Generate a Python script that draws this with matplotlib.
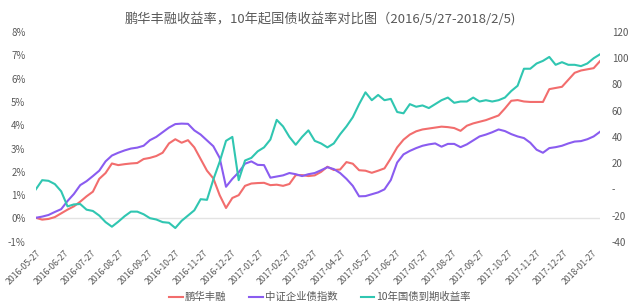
import numpy as np
import pandas as pd
import matplotlib
matplotlib.use('Agg')
import matplotlib.pyplot as plt
from matplotlib.ticker import FuncFormatter

plt.rcParams['font.family'] = ['Noto Sans CJK SC', 'DejaVu Sans']

# weekly-ish readings, 2016-05-27 .. 2018-02-05
start_date = '2016-05-27'
end_date = '2018-02-05'

# 鹏华丰融 cumulative return (%)
penghua = [0.03, -0.05, -0.02, 0.06, 0.22, 0.38, 0.52, 0.72, 0.95, 1.15,
           1.70, 1.95, 2.36, 2.29, 2.33, 2.36, 2.38, 2.55, 2.60, 2.68,
           2.82, 3.22, 3.40, 3.25, 3.36, 3.05, 2.55, 2.05, 1.72, 1.00,
           0.45, 0.88, 1.00, 1.40, 1.50, 1.52, 1.53, 1.43, 1.45, 1.40,
           1.48, 1.86, 1.86, 1.82, 1.85, 2.00, 2.22, 2.08, 2.10, 2.42,
           2.35, 2.07, 2.05, 1.96, 2.05, 2.15, 2.58, 3.05, 3.38, 3.60,
           3.74, 3.82, 3.86, 3.90, 3.94, 3.92, 3.88, 3.76, 3.98, 4.08,
           4.15, 4.22, 4.32, 4.42, 4.72, 5.05, 5.08, 5.02, 5.00, 5.00,
           5.00, 5.55, 5.60, 5.65, 5.95, 6.25, 6.35, 6.40, 6.45, 6.75]

# 中证企业债指数 cumulative return (%)
csi_corp = [0.03, 0.08, 0.15, 0.28, 0.40, 0.75, 1.05, 1.43, 1.60, 1.82,
            2.05, 2.45, 2.70, 2.82, 2.92, 3.00, 3.04, 3.12, 3.36, 3.50,
            3.70, 3.90, 4.05, 4.07, 4.06, 3.78, 3.60, 3.35, 3.10, 2.60,
            1.36, 1.70, 1.98, 2.35, 2.45, 2.30, 2.29, 1.75, 1.80, 1.85,
            1.95, 1.90, 1.82, 1.90, 1.95, 2.07, 2.20, 2.12, 1.95, 1.70,
            1.40, 0.95, 0.96, 1.04, 1.12, 1.25, 1.65, 2.40, 2.75, 2.90,
            3.02, 3.12, 3.18, 3.22, 3.08, 3.20, 3.20, 3.06, 3.18, 3.35,
            3.52, 3.60, 3.70, 3.82, 3.75, 3.62, 3.52, 3.45, 3.25, 2.95,
            2.82, 3.02, 3.06, 3.12, 3.22, 3.30, 3.32, 3.40, 3.52, 3.72]

# 10年国债到期收益率 change (bp, right axis)
cgb10y = [0, 7, 6.5, 4, -1.5, -13, -11.5, -11.2, -15.5, -16.5,
          -20, -25, -28.5, -24.7, -20.5, -17, -17, -19, -22, -23,
          -25, -25.5, -29.5, -24, -20, -16, -7.5, -8, 7.5, 21,
          37, 40, 7, 22, 24, 29, 32, 38, 53, 48,
          40, 34, 40, 45, 37, 35, 32, 35, 42, 48,
          55, 65, 74, 68, 72, 68, 69, 59, 58, 65,
          63, 64, 62, 65, 68, 70, 66, 67, 67, 70,
          67, 68, 67, 68, 70, 75, 79, 92, 92, 96,
          98, 101, 95, 97, 95, 95, 94, 96, 100, 103]

tick_dates = pd.date_range('2016-05-27', periods=21, freq=pd.DateOffset(months=1))
dates = pd.date_range(start_date, end_date, periods=len(penghua))

c_red = '#F26D6D'
c_purple = '#8A5CF0'
c_teal = '#30C6B1'
txt = '#595959'

fig = plt.figure(figsize=(6.4, 3.08), dpi=100)
ax = fig.add_axes([0.056, 0.215, 0.8815, 0.681])
ax2 = ax.twinx()

l1, = ax.plot(dates, penghua, color=c_red, lw=1.5, label='鹏华丰融')
l2, = ax.plot(dates, csi_corp, color=c_purple, lw=1.5, label='中证企业债指数')
l3, = ax2.plot(dates, cgb10y, color=c_teal, lw=1.5, label='10年国债到期收益率')
ax.axhline(0, color='#E3E3E3', lw=1, zorder=0)

ax.set_xlim(dates[0], dates[-1])
ax.set_ylim(-1, 8)
ax2.set_ylim(-40, 120)
ax.set_yticks(range(-1, 9))
ax.yaxis.set_major_formatter(FuncFormatter(lambda v, p: '%d%%' % v))
ax2.set_yticks(range(-40, 121, 20))
ax2.yaxis.set_major_formatter(FuncFormatter(lambda v, p: '-' if v == 0 else '%d' % v))

ax.set_xticks(tick_dates)
ax.set_xticklabels([d.strftime('%Y-%m-%d') for d in tick_dates], rotation=45,
                   ha='right', rotation_mode='anchor')

for a in (ax, ax2):
    for s in a.spines.values():
        s.set_visible(False)
    a.tick_params(length=0, labelsize=7, colors=txt)
ax.tick_params(axis='y', pad=7.5)
ax.tick_params(axis='x', pad=5, labelsize=6.3)
ax2.tick_params(axis='y', pad=8.5)

fig.suptitle('鹏华丰融收益率，10年起国债收益率对比图（2016/5/27-2018/2/5)',
             x=0.5, y=0.96, fontsize=9.5, color=txt)

fig.legend(handles=[l1, l2, l3], loc='center', bbox_to_anchor=(0.5, 0.035),
           ncol=3, frameon=False, fontsize=7.5, handlelength=1.3,
           handletextpad=0.2, columnspacing=2.2, labelcolor=txt)

fig.savefig('out.png', dpi=100)
